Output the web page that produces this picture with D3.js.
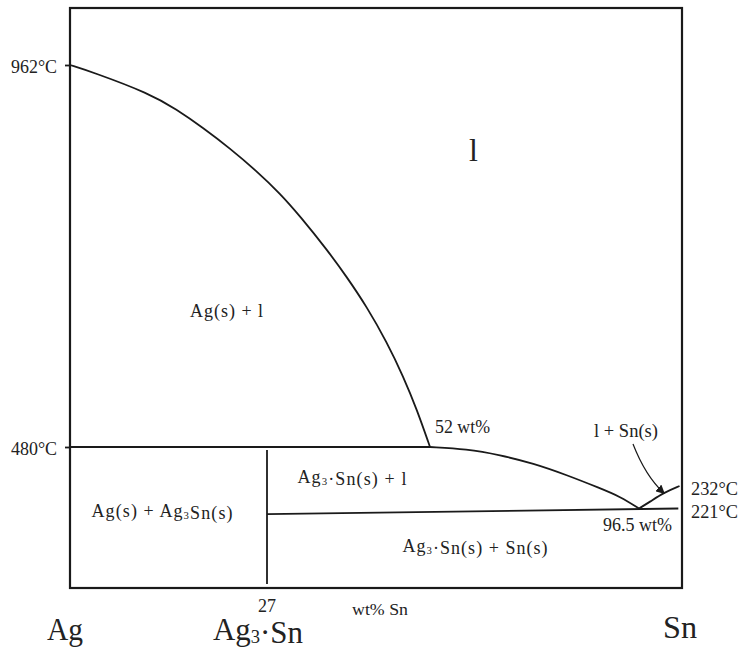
<!DOCTYPE html>
<html>
<head>
<meta charset="utf-8">
<script src="https://cdn.jsdelivr.net/npm/d3@7"></script>
<style>
  body { margin: 0; background: #fff; }
  text { font-family: "Liberation Serif", "Times New Roman", serif; fill: #222; }
</style>
</head>
<body>
<svg width="742" height="649"></svg>
<script>
// composition anchors (wt% Sn) and temperature anchors (°C) of the schematic
var compAnchors = [0, 27, 52, 96.5, 100];
var tempAnchors = [150, 221, 232, 480, 962, 1035];

var tickTemps = [962, 480];
var rightTemps = [232, 221];

// liquidus on the Ag side, [wt% Sn, °C]
var liquidusAg = [
  [0, 962], [3.1, 953], [10.9, 926], [14.6, 906], [18.2, 883], [21.9, 857],
  [25.6, 828], [29.0, 800], [32.1, 771], [36.2, 729], [39.2, 695], [42.3, 657],
  [45.4, 612], [47.9, 569], [50.0, 527], [52, 480]
];
// liquidus from the peritectic down to the eutectic
var liquidusMid = [
  [52, 480], [59.8, 467], [66.9, 429], [74.0, 376], [81.1, 302],
  [88.2, 230.9], [92.5, 226.8], [96.5, 221]
];
// liquidus on the Sn side
var liquidusSn = [[96.5, 221], [97.4, 224.3], [98.5, 228.7], [99.8, 232]];

var peritecticLine = [[0, 480], [52, 480]];
var eutecticLine = [[27, 216], [99.7, 221]];
var compoundLine = [[27, 461], [27, 153.5]];
var arrowTarget = [98.5, 228.7];

var svg = d3.select("svg");
var g = svg.append("g");

var x = d3.scaleLinear().domain(compAnchors).range([70, 267, 430, 639, 682]);
var y = d3.scaleLinear().domain(tempAnchors).range([588, 508.5, 486, 447, 65, 8]);

var line = d3.line()
  .x(function (d) { return x(d[0]); })
  .y(function (d) { return y(d[1]); });
var smooth = d3.line()
  .x(function (d) { return x(d[0]); })
  .y(function (d) { return y(d[1]); })
  .curve(d3.curveBasis);

// frame
g.append("rect")
  .attr("x", x(0)).attr("y", y(1035))
  .attr("width", x(100) - x(0)).attr("height", y(150) - y(1035))
  .attr("fill", "none").attr("stroke", "#1a1a1a").attr("stroke-width", 2.2);

// left temperature ticks
var yAxis = d3.axisLeft(y).tickValues(tickTemps).tickSize(5).tickPadding(8)
  .tickFormat(function (d) { return d + "°C"; });
var ax = g.append("g").attr("transform", "translate(" + x(0) + ",0)").call(yAxis)
  .attr("font-family", null).attr("font-size", null);
ax.select(".domain").remove();
ax.selectAll("line").attr("stroke", "#1a1a1a").attr("stroke-width", 1.8);
ax.selectAll("text").attr("font-size", 19).attr("fill", "#222")
  .attr("textLength", 46).attr("lengthAdjust", "spacingAndGlyphs")
  .attr("dy", "0.4em");

// phase boundaries
[peritecticLine, eutecticLine, compoundLine].forEach(function (d) {
  g.append("path").attr("d", line(d))
    .attr("fill", "none").attr("stroke", "#1a1a1a").attr("stroke-width", 1.8);
});
[liquidusAg, liquidusMid, liquidusSn].forEach(function (d) {
  g.append("path").attr("d", smooth(d))
    .attr("fill", "none").attr("stroke", "#1a1a1a").attr("stroke-width", 1.8);
});

// arrow for l + Sn(s)
svg.append("defs").append("marker")
  .attr("id", "head").attr("viewBox", "0 0 10 10")
  .attr("refX", 8).attr("refY", 5)
  .attr("markerWidth", 9).attr("markerHeight", 9).attr("markerUnits", "userSpaceOnUse")
  .attr("orient", "auto")
  .append("path").attr("d", "M0,0L10,5L0,10z").attr("fill", "#1a1a1a");
var ap = d3.path();
ap.moveTo(633, 444);
ap.quadraticCurveTo(645.5, 476, x(arrowTarget[0]), y(arrowTarget[1]));
g.append("path").attr("d", ap.toString())
  .attr("fill", "none").attr("stroke", "#1a1a1a").attr("stroke-width", 1.2)
  .attr("marker-end", "url(#head)");

// text helper: parts are [string, isSubscript]
function label(px, py, parts, size, width, anchor, adjust) {
  var t = g.append("text").attr("x", px).attr("y", py)
    .attr("font-size", size).attr("text-anchor", anchor || "middle");
  parts.forEach(function (p) {
    if (p[1]) {
      t.append("tspan").attr("font-size", size * 0.6).attr("dy", size * 0.1).text(p[0]);
      t.append("tspan").attr("dy", -size * 0.1).text("");
    } else {
      t.append("tspan").text(p[0]);
    }
  });
  if (width) t.attr("textLength", width).attr("lengthAdjust", adjust || "spacingAndGlyphs");
  return t;
}

// region labels
label(473.5, 161, [["l"]], 32);
label(226.5, 317, [["Ag(s) + l"]], 18, 73, "middle", "spacing");
label(162, 517, [["Ag(s) + Ag"], ["3", 1], ["Sn(s)"]], 18, 141, "middle", "spacing");
label(352, 483, [["Ag"], ["3", 1], ["·Sn(s) + l"]], 18, 109, "middle", "spacing");
label(475, 552, [["Ag"], ["3", 1], ["·Sn(s) + Sn(s)"]], 18, 145, "middle", "spacing");
label(626, 437, [["l + Sn(s)"]], 18, 64);

// point labels
label(435, 433, [["52 wt%"]], 19, 55, "start");
label(603, 531, [["96.5 wt%"]], 19, 69, "start");
rightTemps.forEach(function (t) {
  label(691, y(t) + 9, [[t + "°C"]], 19, 47, "start");
});

// composition axis
label(x(27), 612, [["27"]], 19, 18);
label(380, 615, [["wt% Sn"]], 17, 56);
label(65, 640, [["Ag"]], 31, 36);
label(258, 640, [["Ag"], ["3", 1], ["·Sn"]], 31, 90);
label(680, 638, [["Sn"]], 31, 34);
</script>
</body>
</html>
